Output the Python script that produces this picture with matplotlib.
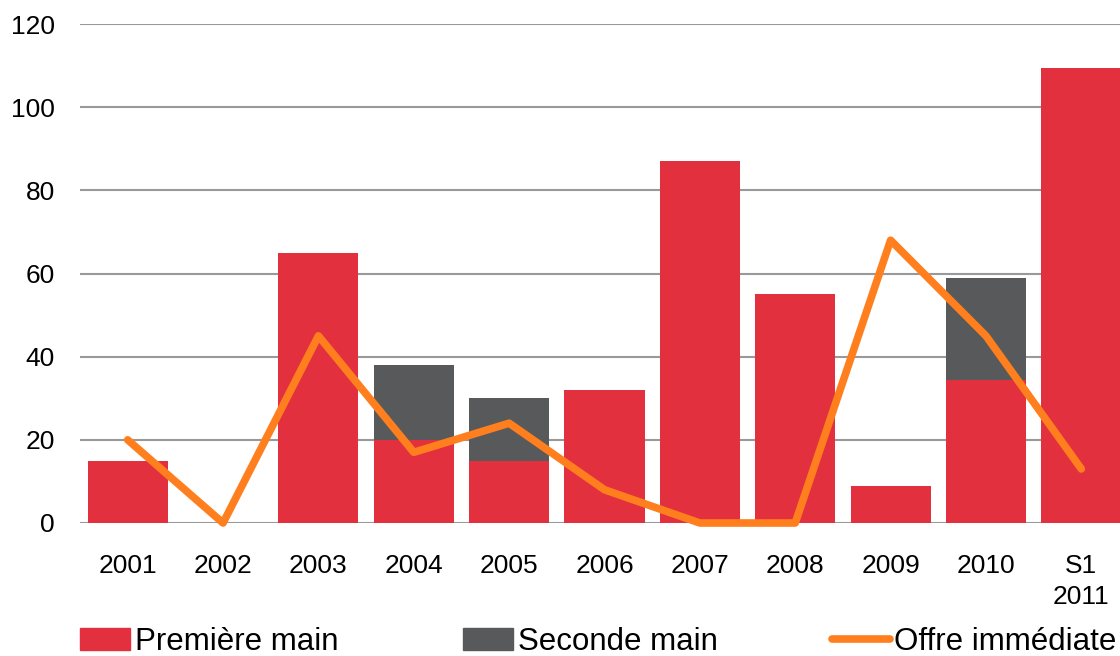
import matplotlib
matplotlib.use("Agg")
import numpy as np
from matplotlib import pyplot as plt
from matplotlib.patches import Patch
from matplotlib.lines import Line2D

plt.rcParams['font.family'] = ['Liberation Sans', 'DejaVu Sans']

# data
categories = ['2001', '2002', '2003', '2004', '2005', '2006', '2007', '2008', '2009', '2010', 'S1\n2011']
premiere = [15, 0, 65, 20, 15, 32, 87, 55, 9, 34.5, 109.5]
seconde = [0, 0, 0, 18, 15, 0, 0, 0, 0, 24.5, 0]
offre = [20, 0, 45, 17, 24, 8, 0, 0, 68, 45, 13]
yticks = [0, 20, 40, 60, 80, 100, 120]

red = '#E3303F'
grey = '#58595B'
orange = '#FF7F1E'

fig = plt.figure(figsize=(11.2, 6.56), dpi=100)
ax = fig.add_axes([80/1120, 1 - 523/656, 1049/1120, 499/656])

x = np.arange(len(categories))
ax.bar(x, premiere, width=0.84, color=red, zorder=2)
ax.bar(x, seconde, width=0.84, bottom=premiere, color=grey, zorder=2)
ax.plot(x, offre, color=orange, lw=5.5, zorder=3, clip_on=False, solid_capstyle='round')

ax.set_xlim(-0.5, len(categories) - 0.5)
ax.set_ylim(0, 120)
ax.set_yticks(yticks)
ax.set_xticks(x)
ax.set_xticklabels(categories, fontsize=19, linespacing=1.4, va='top')
ax.tick_params(axis='y', labelsize=19, length=0, pad=18)
ax.tick_params(axis='x', length=0, pad=22)
ax.yaxis.grid(True, color='#999999', lw=1.5, zorder=0)
ax.set_axisbelow(True)
for s in ax.spines.values():
    s.set_visible(False)

# legend: three separate entries placed like the original
entries = [
    (Patch(color=red), 'Première main', 80, 1.6),
    (Patch(color=grey), 'Seconde main', 463, 1.6),
    (Line2D([], [], color=orange, lw=5.5, solid_capstyle='round'), 'Offre immédiate', 832, 1.85),
]
for h, lab, px, hl in entries:
    fig.legend([h], [lab], loc='center left', bbox_to_anchor=(px/1120, 1 - 642/656),
               frameon=False, fontsize=22.5, borderpad=0, borderaxespad=0,
               handlelength=hl, handleheight=0.7, handletextpad=0.15)

fig.savefig('out.png', dpi=100)
